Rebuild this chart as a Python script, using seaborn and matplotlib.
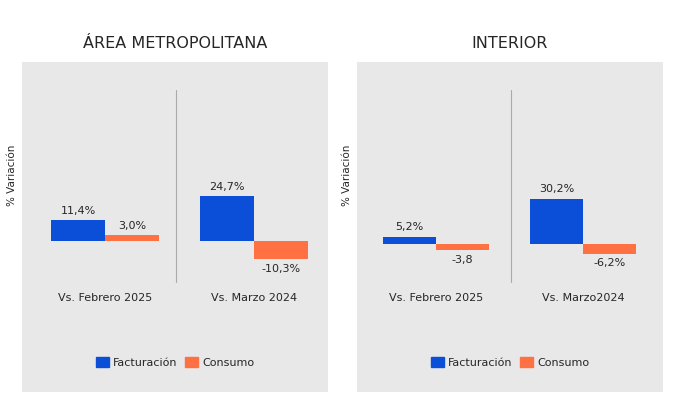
import matplotlib
matplotlib.use("Agg")
import matplotlib.pyplot as plt
import seaborn as sns
import pandas as pd
from matplotlib.patches import Patch

titles = ["ÁREA METROPOLITANA", "INTERIOR"]
cats = [["Vs. Febrero 2025", "Vs. Marzo 2024"], ["Vs. Febrero 2025", "Vs. Marzo2024"]]
series = ["Facturación", "Consumo"]
fact = [[11.4, 24.7], [5.2, 30.2]]
cons = [[3.0, -10.3], [-3.8, -6.2]]
labels_f = [["11,4%", "24,7%"], ["5,2%", "30,2%"]]
labels_c = [["3,0%", "-10,3%"], ["-3,8", "-6,2%"]]
colors = {"Facturación": "#0b4fd8", "Consumo": "#ff7043"}

sns.set_theme(style="white")
plt.rcParams['font.family'] = ['DejaVu Sans']
fig = plt.figure(figsize=(6.78, 4.12), dpi=100)
W, H = 678, 412
panels = [dict(x0=22, xl=(-0.557, 1.497), yl=(-84, 99.4), div=0.48),
          dict(x0=357, xl=(-0.537, 1.544), yl=(-97, 120), div=0.51)]
for i, p in enumerate(panels):
    ax = fig.add_axes([p["x0"]/W, (412-392)/H, 306/W, 330/H])
    ax.set_facecolor("#e8e8e8")
    df = pd.DataFrame({"cat": [0, 1, 0, 1],
                       "val": fact[i] + cons[i],
                       "serie": [series[0]]*2 + [series[1]]*2})
    sns.barplot(data=df, x="cat", y="val", hue="serie", palette=colors, saturation=1,
                width=0.72, ax=ax, legend=False, order=[0, 1], native_scale=True,
                linewidth=0)
    ax.set_xlim(*p["xl"]); ax.set_ylim(*p["yl"])
    for s in ax.spines.values():
        s.set_visible(False)
    ax.set_xticks([]); ax.set_yticks([])
    ax.set_xlabel(""); ax.set_ylabel("")
    tr = ax.get_xaxis_transform()
    ax.plot([p["div"]]*2, [(392-282)/330, (392-90)/330], transform=tr, color="#aaaaaa", lw=0.8)
    for j in range(2):
        for k, (v, lab) in enumerate([(fact[i][j], labels_f[i][j]), (cons[i][j], labels_c[i][j])]):
            x = j + (-0.18 if k == 0 else 0.18)
            off = 2.5 if v >= 0 else -2.5
            ax.text(x, v + off*(p["yl"][1]-p["yl"][0])/183, lab, ha="center",
                    va="bottom" if v >= 0 else "top", fontsize=8)
        ax.text(j, 0.285, cats[i][j], transform=tr, ha="center", va="center", fontsize=8)
    fig.text((p["x0"]+153)/W, (412-44)/H, titles[i], ha="center", va="center", fontsize=11.5)
    fig.text((p["x0"]-10)/W, (412-175)/H, "% Variación", rotation=90, ha="center", va="center", fontsize=7.5)
    ax.legend(handles=[Patch(color=colors[s], label=s) for s in series], loc="center",
              bbox_to_anchor=(0.5, 0.09), ncol=2, frameon=False, fontsize=8,
              handlelength=1.2, handleheight=1.0, columnspacing=0.6, handletextpad=0.4)
fig.savefig("out.png", dpi=100, facecolor="white")
